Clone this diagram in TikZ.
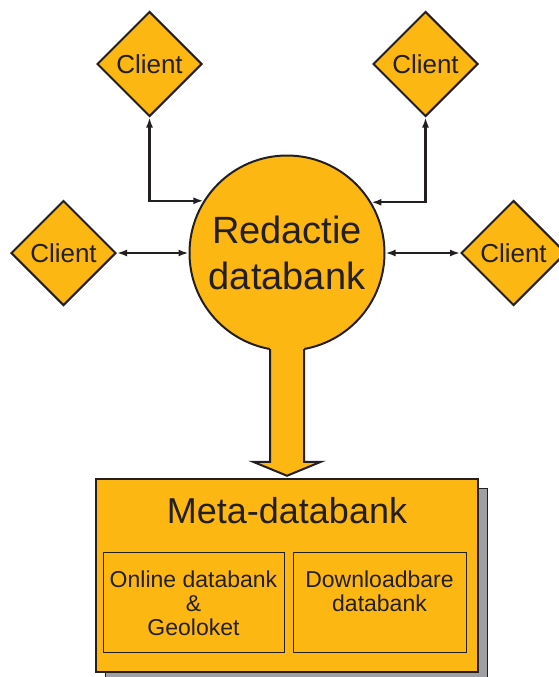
\documentclass[tikz,border=0pt]{standalone}
\usepackage{fontspec}
\setmainfont{Liberation Sans}
\usetikzlibrary{shapes.geometric,arrows.meta,positioning,calc,shadows}

\definecolor{geel}{RGB}{252,183,19}
\definecolor{donker}{RGB}{35,31,32}
\definecolor{schaduw}{RGB}{160,160,164}

\tikzset{
  client/.style={diamond, aspect=1, draw=donker, fill=geel, line width=2pt,
    minimum width=105pt, minimum height=105pt, inner sep=0pt, text=donker,
    font=\fontsize{26}{30}\selectfont},
  verbinding/.style={{Latex[length=10pt,width=7pt]}-{Latex[length=10pt,width=7pt]},
    draw=donker, line width=2.2pt},
  vak/.style={rectangle, draw=donker, line width=1pt, inner sep=0pt},
  vaktekst/.style={inner sep=0pt, align=center, text=donker,
    font=\fontsize{23}{24}\selectfont}
}

\begin{document}
\begin{tikzpicture}[x=1pt, y=-1pt]
        \useasboundingbox (0,0) rectangle (558,677);

        % meta-databank met schaduw
        \node[rectangle, draw=donker, fill=geel, line width=2.5pt,
              minimum width=382pt, minimum height=193pt, inner sep=0pt,
              general shadow={shadow xshift=9pt, shadow yshift=-9pt,
                fill=schaduw, draw=donker, line width=0.8pt}]
              (meta) at (287,575.5) {};
        \node[anchor=base, inner sep=0pt, text=donker,
              font=\fontsize{36}{40}\selectfont]
              (metatxt) at ($(meta.north)+(0,46)$) {Meta-databank};

        \node[vak, minimum width=181pt, minimum height=100pt] (onl) at (193.5,602) {};
        \node[vak, minimum width=173pt, minimum height=100pt] (dl) at (379.5,602) {};
        \node[vaktekst, below=19pt of onl.north] (onltxt) {Online databank\\\&\\Geoloket};
        \node[vaktekst, below=19pt of dl.north] (dltxt) {Downloadbare\\databank};

        % redactie databank
        \node[circle, draw=donker, fill=geel, line width=2pt, minimum size=195pt,
              inner sep=0pt, align=center, text=donker,
              font=\fontsize{38}{46}\selectfont]
              (red) at (287,253) {Redactie\\databank};

        % dikke pijl naar de meta-databank
        \coordinate (tip) at (meta.north);
        \fill[geel] ($(red.center)+(-17,90)$) -- ($(tip)+(-17,-16)$) -- ($(tip)+(-34,-16)$)
          -- ($(tip)+(0,-2)$) -- ($(tip)+(34,-16)$) -- ($(tip)+(17,-16)$)
          -- ($(red.center)+(17,90)$) -- cycle;
        \draw[donker, line width=2pt, line join=miter]
          ($(red.center)+(-17,96)$) -- ($(tip)+(-17,-16)$) -- ($(tip)+(-34,-16)$)
          -- ($(tip)+(0,-2)$) -- ($(tip)+(34,-16)$) -- ($(tip)+(17,-16)$)
          -- ($(red.center)+(17,96)$);

        % clients
        \node[client] (c1) at (149.5,64) {Client};
        \node[client] (c2) at (425.5,64) {Client};
        \node[client] (c3) at (63.5,253) {Client};
        \node[client] (c4) at (513.5,253) {Client};

        \draw[verbinding] (c1.south) |- (red.148);
        \draw[verbinding] (c2.south) |- (red.31);
        \draw[verbinding] (c3) -- (red);
        \draw[verbinding] (c4) -- (red);
      \end{tikzpicture}
\end{document}
